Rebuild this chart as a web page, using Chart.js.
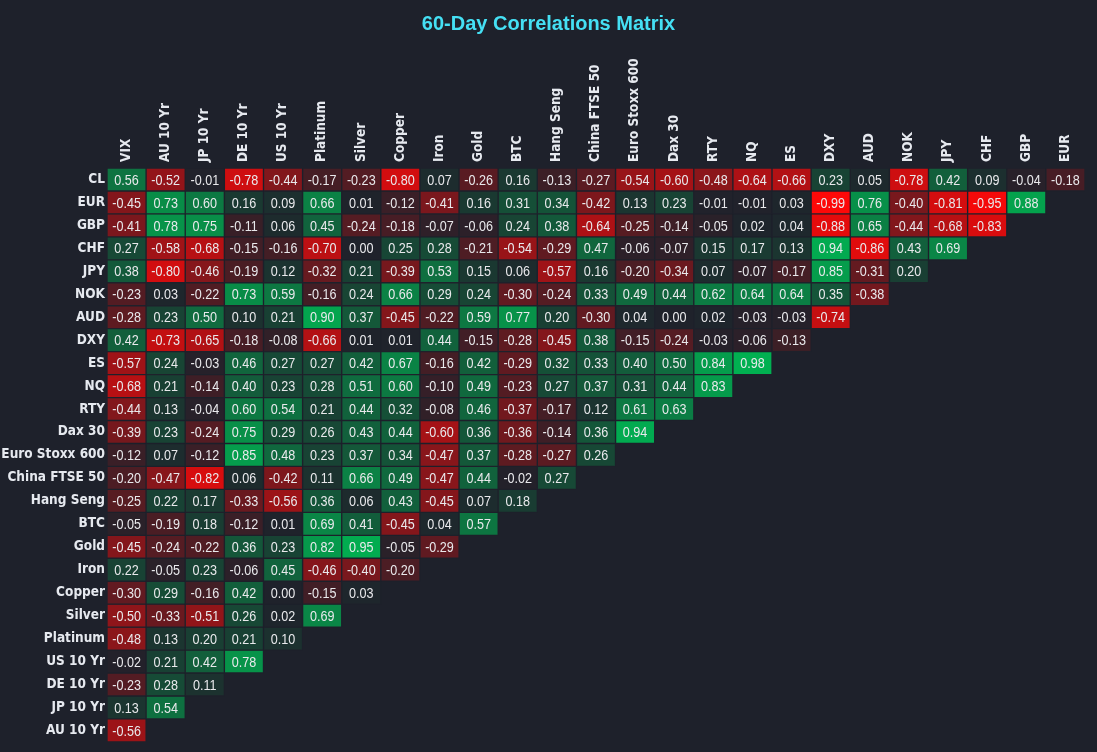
<!DOCTYPE html>
<html>
<head>
<meta charset="utf-8">
<title>60-Day Correlations Matrix</title>
<script src="https://cdn.jsdelivr.net/npm/chart.js@4.4.1/dist/chart.umd.min.js"></script>
<style>
  html, body { margin: 0; padding: 0; background: #1e212b; }
  #wrap { width: 1097px; height: 752px; position: relative; }
</style>
</head>
<body>
<div id="wrap"><canvas id="myChart"></canvas></div>
<script>
// filas y columnas del triangulo
var rows = ['CL', 'EUR', 'GBP', 'CHF', 'JPY', 'NOK', 'AUD', 'DXY', 'ES', 'NQ', 'RTY', 'Dax 30',
  'Euro Stoxx 600', 'China FTSE 50', 'Hang Seng', 'BTC', 'Gold', 'Iron', 'Copper', 'Silver',
  'Platinum', 'US 10 Yr', 'DE 10 Yr', 'JP 10 Yr', 'AU 10 Yr'];
var cols = ['VIX', 'AU 10 Yr', 'JP 10 Yr', 'DE 10 Yr', 'US 10 Yr', 'Platinum', 'Silver', 'Copper',
  'Iron', 'Gold', 'BTC', 'Hang Seng', 'China FTSE 50', 'Euro Stoxx 600', 'Dax 30', 'RTY', 'NQ',
  'ES', 'DXY', 'AUD', 'NOK', 'JPY', 'CHF', 'GBP', 'EUR'];

// valores por fila (en el orden de cols)
var vCL = [0.56, -0.52, -0.01, -0.78, -0.44, -0.17, -0.23, -0.80, 0.07, -0.26, 0.16, -0.13, -0.27, -0.54, -0.60, -0.48, -0.64, -0.66, 0.23, 0.05, -0.78, 0.42, 0.09, -0.04, -0.18];
var vEUR = [-0.45, 0.73, 0.60, 0.16, 0.09, 0.66, 0.01, -0.12, -0.41, 0.16, 0.31, 0.34, -0.42, 0.13, 0.23, -0.01, -0.01, 0.03, -0.99, 0.76, -0.40, -0.81, -0.95, 0.88];
var vGBP = [-0.41, 0.78, 0.75, -0.11, 0.06, 0.45, -0.24, -0.18, -0.07, -0.06, 0.24, 0.38, -0.64, -0.25, -0.14, -0.05, 0.02, 0.04, -0.88, 0.65, -0.44, -0.68, -0.83];
var vCHF = [0.27, -0.58, -0.68, -0.15, -0.16, -0.70, 0.00, 0.25, 0.28, -0.21, -0.54, -0.29, 0.47, -0.06, -0.07, 0.15, 0.17, 0.13, 0.94, -0.86, 0.43, 0.69];
var vJPY = [0.38, -0.80, -0.46, -0.19, 0.12, -0.32, 0.21, -0.39, 0.53, 0.15, 0.06, -0.57, 0.16, -0.20, -0.34, 0.07, -0.07, -0.17, 0.85, -0.31, 0.20];
var vNOK = [-0.23, 0.03, -0.22, 0.73, 0.59, -0.16, 0.24, 0.66, 0.29, 0.24, -0.30, -0.24, 0.33, 0.49, 0.44, 0.62, 0.64, 0.64, 0.35, -0.38];
var vAUD = [-0.28, 0.23, 0.50, 0.10, 0.21, 0.90, 0.37, -0.45, -0.22, 0.59, 0.77, 0.20, -0.30, 0.04, 0.00, 0.02, -0.03, -0.03, -0.74];
var vDXY = [0.42, -0.73, -0.65, -0.18, -0.08, -0.66, 0.01, 0.01, 0.44, -0.15, -0.28, -0.45, 0.38, -0.15, -0.24, -0.03, -0.06, -0.13];
var vES = [-0.57, 0.24, -0.03, 0.46, 0.27, 0.27, 0.42, 0.67, -0.16, 0.42, -0.29, 0.32, 0.33, 0.40, 0.50, 0.84, 0.98];
var vNQ = [-0.68, 0.21, -0.14, 0.40, 0.23, 0.28, 0.51, 0.60, -0.10, 0.49, -0.23, 0.27, 0.37, 0.31, 0.44, 0.83];
var vRTY = [-0.44, 0.13, -0.04, 0.60, 0.54, 0.21, 0.44, 0.32, -0.08, 0.46, -0.37, -0.17, 0.12, 0.61, 0.63];
var vDax30 = [-0.39, 0.23, -0.24, 0.75, 0.29, 0.26, 0.43, 0.44, -0.60, 0.36, -0.36, -0.14, 0.36, 0.94];
var vEuroStoxx600 = [-0.12, 0.07, -0.12, 0.85, 0.48, 0.23, 0.37, 0.34, -0.47, 0.37, -0.28, -0.27, 0.26];
var vChinaFTSE50 = [-0.20, -0.47, -0.82, 0.06, -0.42, 0.11, 0.66, 0.49, -0.47, 0.44, -0.02, 0.27];
var vHangSeng = [-0.25, 0.22, 0.17, -0.33, -0.56, 0.36, 0.06, 0.43, -0.45, 0.07, 0.18];
var vBTC = [-0.05, -0.19, 0.18, -0.12, 0.01, 0.69, 0.41, -0.45, 0.04, 0.57];
var vGold = [-0.45, -0.24, -0.22, 0.36, 0.23, 0.82, 0.95, -0.05, -0.29];
var vIron = [0.22, -0.05, 0.23, -0.06, 0.45, -0.46, -0.40, -0.20];
var vCopper = [-0.30, 0.29, -0.16, 0.42, 0.00, -0.15, 0.03];
var vSilver = [-0.50, -0.33, -0.51, 0.26, 0.02, 0.69];
var vPlatinum = [-0.48, 0.13, 0.20, 0.21, 0.10];
var vUS10Yr = [-0.02, 0.21, 0.42, 0.78];
var vDE10Yr = [-0.23, 0.28, 0.11];
var vJP10Yr = [0.13, 0.54];
var vAU10Yr = [-0.56];

var matrix = [vCL, vEUR, vGBP, vCHF, vJPY, vNOK, vAUD, vDXY, vES, vNQ, vRTY, vDax30,
  vEuroStoxx600, vChinaFTSE50, vHangSeng, vBTC, vGold, vIron, vCopper, vSilver,
  vPlatinum, vUS10Yr, vDE10Yr, vJP10Yr, vAU10Yr];

var bg = '#1e212b';
var fontLabel = '"DejaVu Sans Condensed", "Liberation Sans", sans-serif';

// escala rojo - oscuro - verde
function cellColor(v) {
  var mid = [31, 34, 43];
  var neg = [255, 8, 8];
  var pos = [0, 179, 82];
  var end = v < 0 ? neg : pos;
  var t = Math.min(Math.abs(v), 1);
  var c = mid.map(function (m, k) { return Math.round(m + (end[k] - m) * t); });
  return 'rgb(' + c.join(',') + ')';
}

var datasets = matrix.map(function (vals, i) {
  return {
    label: rows[i],
    data: cols.map(function (c, j) { return j < vals.length ? [i, i + 1] : null; }),
    backgroundColor: function (ctx) { return cellColor(vals[ctx.dataIndex]); },
    borderColor: bg,
    borderWidth: 1,
    borderSkipped: false,
    barPercentage: 1,
    categoryPercentage: 1,
    grouped: false
  };
});

// texto dentro de cada celda (estrechado a lo ancho)
var cellText = {
  id: 'cellText',
  afterDatasetsDraw: function (chart) {
    var ctx = chart.ctx;
    chart.data.datasets.forEach(function (ds, i) {
      var meta = chart.getDatasetMeta(i);
      meta.data.forEach(function (bar, j) {
        if (ds.data[j] == null) return;
        var p = bar.getProps(['x', 'y', 'base'], true);
        ctx.save();
        ctx.translate(p.x, (p.y + p.base) / 2 + 1);
        ctx.scale(0.84, 1);
        ctx.font = '15px "Liberation Sans", sans-serif';
        ctx.fillStyle = '#e9e9ec';
        ctx.textAlign = 'center';
        ctx.textBaseline = 'middle';
        ctx.fillText(matrix[i][j].toFixed(2), 0, 0);
        ctx.restore();
      });
    });
  }
};

var ctx = document.getElementById('myChart').getContext('2d');
var chart = new Chart(ctx, {
  type: 'bar',
  data: { labels: cols, datasets: datasets },
  plugins: [cellText],
  options: {
    responsive: true,
    maintainAspectRatio: false,
    animation: false,
    layout: { padding: { left: 0, right: 0, top: 0, bottom: 8 } },
    plugins: {
      legend: { display: false },
      tooltip: { enabled: false },
      title: {
        display: true,
        text: '60-Day Correlations Matrix',
        color: '#45e0f4',
        font: { family: '"Liberation Sans", sans-serif', size: 20, weight: 'bold' },
        padding: { top: 12, bottom: 8 }
      }
    },
    scales: {
      x: {
        type: 'category',
        position: 'top',
        grid: { display: false, drawTicks: false },
        border: { display: false },
        ticks: {
          color: '#e6e9ef',
          font: { family: fontLabel, size: 13.5, weight: 'bold' },
          minRotation: 90,
          maxRotation: 90,
          autoSkip: false,
          labelOffset: 16,
          padding: 6
        },
        afterFit: function (scale) { scale.height = 124; }
      },
      y: {
        type: 'linear',
        min: 0,
        max: 25,
        reverse: true,
        grid: { display: false, drawTicks: false },
        border: { display: false },
        afterBuildTicks: function (scale) {
          scale.ticks = rows.map(function (r, i) { return { value: i + 0.5 }; });
        },
        ticks: {
          color: '#e6e9ef',
          font: { family: fontLabel, size: 13.5, weight: 'bold' },
          autoSkip: false,
          padding: 2,
          callback: function (v, i) { return rows[i]; }
        },
        afterFit: function (scale) { scale.width = 107; }
      },
      // margen derecho vacio
      y2: {
        type: 'linear',
        position: 'right',
        grid: { display: false, drawTicks: false },
        border: { display: false },
        ticks: { display: false },
        afterFit: function (scale) { scale.width = 12; }
      }
    }
  }
});
</script>
</body>
</html>
